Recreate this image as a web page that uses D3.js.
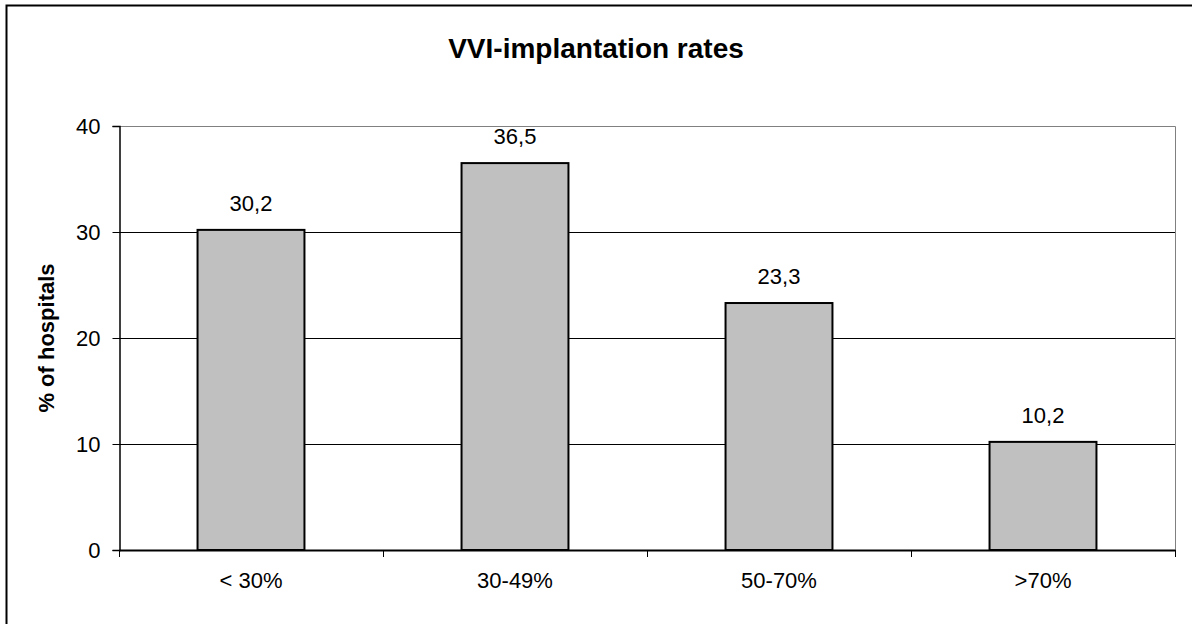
<!DOCTYPE html>
<html>
<head>
<meta charset="utf-8">
<script src="https://cdn.jsdelivr.net/npm/d3@7"></script>
<style>
  html, body { margin: 0; background: #fff; overflow: hidden; }
  svg { display: block; }
  svg text { font-family: "Liberation Sans", Arial, sans-serif; }
</style>
</head>
<body>
<div id="chart"></div>
<script>
// data
var categories = ["< 30%", "30-49%", "50-70%", ">70%"];
var values = [30.2, 36.5, 23.3, 10.2];
var valueLabels = ["30,2", "36,5", "23,3", "10,2"];
var yTicks = [0, 10, 20, 30, 40];

var W = 1192, H = 624;
var plot = { left: 119, right: 1175, top: 126, bottom: 550 };

var svg = d3.select("#chart").append("svg")
  .attr("width", W)
  .attr("height", H);

// outer frame (only top/left visible in the picture)
svg.append("rect")
  .attr("x", 6.5).attr("y", 5.5)
  .attr("width", W + 10).attr("height", H + 10)
  .attr("fill", "none")
  .attr("stroke", "#000")
  .attr("stroke-width", 2);

var x = d3.scaleBand()
  .domain(categories)
  .range([plot.left, plot.right])
  .paddingInner(0.595)
  .paddingOuter(0.2975);

var xCat = d3.scaleBand()
  .domain(categories)
  .range([plot.left, plot.right]);

var y = d3.scaleLinear()
  .domain([0, 40])
  .range([plot.bottom, plot.top]);

// gridlines
svg.append("g")
  .selectAll("line")
  .data(yTicks.filter(function (d) { return d > 0 && d < 40; }))
  .enter()
  .append("line")
  .attr("x1", plot.left).attr("x2", plot.right)
  .attr("y1", function (d) { return Math.round(y(d)) + 0.5; })
  .attr("y2", function (d) { return Math.round(y(d)) + 0.5; })
  .attr("stroke", "#000")
  .attr("stroke-width", 1);

// plot area border top / right (gray)
svg.append("path")
  .attr("d", "M" + plot.left + "," + (y(40) + 0.5) + "H" + (plot.right + 0.5) + "V" + plot.bottom)
  .attr("fill", "none")
  .attr("stroke", "#808080")
  .attr("stroke-width", 1);

// bars
svg.append("g")
  .selectAll("rect")
  .data(values)
  .enter()
  .append("rect")
  .attr("x", function (d, i) { return x(categories[i]); })
  .attr("y", function (d) { return y(d); })
  .attr("width", x.bandwidth())
  .attr("height", function (d) { return y(0) - y(d); })
  .attr("fill", "#c0c0c0")
  .attr("stroke", "#000")
  .attr("stroke-width", 2);

// value labels
svg.append("g")
  .selectAll("text")
  .data(values)
  .enter()
  .append("text")
  .attr("x", function (d, i) { return x(categories[i]) + x.bandwidth() / 2; })
  .attr("y", function (d) { return y(d) - 19; })
  .attr("text-anchor", "middle")
  .style("font-size", "22px")
  .text(function (d, i) { return valueLabels[i]; });

// y axis
var yAxis = svg.append("g")
  .attr("transform", "translate(" + (plot.left + 0.5) + ",0)")
  .call(d3.axisLeft(y).tickValues(yTicks).tickSize(7).tickPadding(12));
yAxis.select(".domain").attr("stroke", "#000").attr("stroke-width", 1.5);
yAxis.selectAll(".tick line").attr("stroke", "#000");
yAxis.selectAll("text")
  .style("font-size", "22px")
  .style("font-family", "'Liberation Sans', Arial, sans-serif")
  .attr("fill", "#000");

// x axis
var xAxis = svg.append("g")
  .attr("transform", "translate(0," + plot.bottom + ")")
  .call(d3.axisBottom(xCat).tickSize(0).tickPadding(22).tickSizeOuter(0));
xAxis.select(".domain").attr("stroke", "#000").attr("stroke-width", 2);
xAxis.selectAll("text")
  .style("font-size", "22px")
  .style("font-family", "'Liberation Sans', Arial, sans-serif")
  .attr("fill", "#000");

// category separator ticks below the x axis
var bounds = categories.map(function (c) { return xCat(c); }).concat([plot.right]);
svg.append("g")
  .selectAll("line")
  .data(bounds)
  .enter()
  .append("line")
  .attr("x1", function (d) { return Math.round(d) + 0.5; })
  .attr("x2", function (d) { return Math.round(d) + 0.5; })
  .attr("y1", plot.bottom)
  .attr("y2", plot.bottom + 7)
  .attr("stroke", "#000");

// title
svg.append("text")
  .attr("x", 596)
  .attr("y", 58)
  .attr("text-anchor", "middle")
  .style("font-size", "28px")
  .style("font-weight", "bold")
  .text("VVI-implantation rates");

// y axis title
svg.append("text")
  .attr("transform", "translate(54," + ((plot.top + plot.bottom) / 2) + ") rotate(-90)")
  .attr("text-anchor", "middle")
  .style("font-size", "22px")
  .style("font-weight", "bold")
  .text("% of hospitals");
</script>
</body>
</html>
